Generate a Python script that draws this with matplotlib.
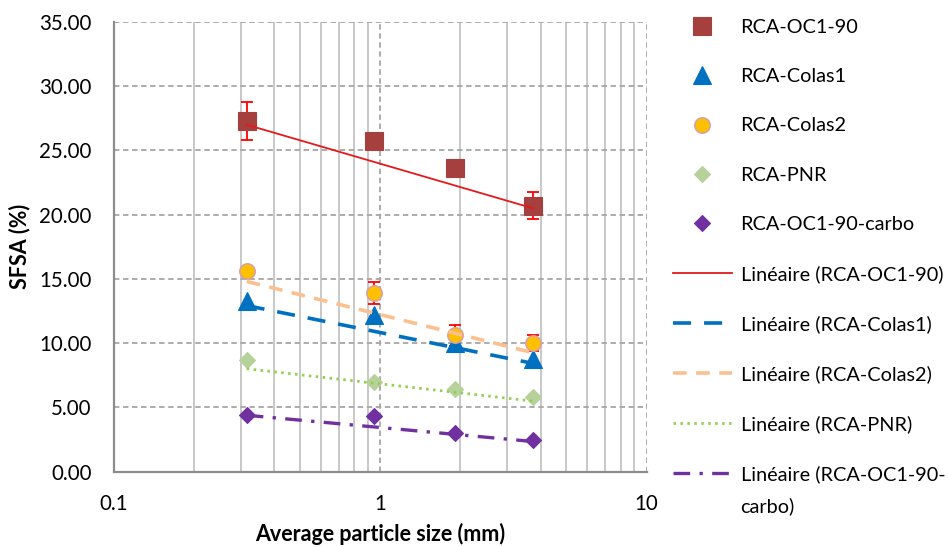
import numpy as np
import matplotlib
matplotlib.use("Agg")
import matplotlib.pyplot as plt
from matplotlib.lines import Line2D
from matplotlib.transforms import IdentityTransform
from matplotlib.ticker import FixedLocator, LogLocator, NullFormatter, FuncFormatter

plt.rcParams['font.family'] = ['Lato', 'DejaVu Sans']

# Average particle size of each fraction (mm)
particle_size = [0.315, 0.95, 1.9, 3.75]

# SFSA (%) per material
sfsa_oc1_90 = [27.3, 25.7, 23.6, 20.7]
sfsa_colas1 = [13.3, 12.2, 10.0, 8.8]
sfsa_colas2 = [15.6, 13.9, 10.6, 10.0]
sfsa_pnr = [8.7, 7.0, 6.4, 5.8]
sfsa_carbo = [4.4, 4.3, 3.0, 2.5]

# Error bar half-widths
err_oc1_90 = [1.45, 0.4, 0.4, 1.05]
err_colas2 = [0.3, 0.85, 0.8, 0.6]

series_names = ["RCA-OC1-90", "RCA-Colas1", "RCA-Colas2", "RCA-PNR", "RCA-OC1-90-carbo"]
trend_names = ["Linéaire (RCA-OC1-90)", "Linéaire (RCA-Colas1)", "Linéaire (RCA-Colas2)",
               "Linéaire (RCA-PNR)", "Linéaire (RCA-OC1-90-"]
trend_name_tail = "carbo)"
y_ticks = [0, 5, 10, 15, 20, 25, 30, 35]
x_ticks = [0.1, 1, 10]

fig = plt.figure(figsize=(9.48, 5.47), dpi=100)
ax = fig.add_axes([0.1203, 0.1377, 0.5617, 0.8221])

x = np.array(particle_size)

styles = [
    dict(marker='s', ms=13, mfc='#A5403E', mec='#A5403E', mew=0.8),
    dict(marker='^', ms=13, mfc='#0070C0', mec='#0070C0', mew=0.8),
    dict(marker='o', ms=11, mfc='#FFC000', mec='#D9A29A', mew=1.2),
    dict(marker='D', ms=8.5, mfc='#B7D19A', mec='#B7D19A', mew=0.8),
    dict(marker='D', ms=8.5, mfc='#7030A0', mec='#7030A0', mew=0.8),
]
trend_styles = [
    dict(color='#E31A1C', lw=1.3, ls='-'),
    dict(color='#0070C0', lw=2.6, ls=(0, (5.0, 3.6))),
    dict(color='#FAC090', lw=2.6, ls=(0, (3.8, 2.6))),
    dict(color='#92D050', lw=2.0, ls=(0, (0.9, 1.6))),
    dict(color='#7030A0', lw=2.4, ls=(0, (5.0, 2.8, 1.0, 2.8))),
]
data = [sfsa_oc1_90, sfsa_colas1, sfsa_colas2, sfsa_pnr, sfsa_carbo]

# Error bars sit behind the markers
ax.errorbar(x, sfsa_oc1_90, yerr=err_oc1_90, fmt='none', ecolor='#FF0000',
            elinewidth=1.3, capsize=4.5, capthick=1.3, zorder=3)
ax.errorbar(x, sfsa_colas2, yerr=err_colas2, fmt='none', ecolor='#FF0000',
            elinewidth=1.3, capsize=4.5, capthick=1.3, zorder=3)

# Linear trend lines (least squares in x), drawn between the end points
for ys, ts in zip(data, trend_styles):
    slope, intercept = np.polyfit(x, ys, 1)
    xe = np.array([x.min(), x.max()])
    ax.plot(xe, slope * xe + intercept, zorder=5, dash_capstyle='butt', **ts)

for ys, st in zip(data, styles):
    ax.plot(x, ys, ls='none', zorder=4, **st)

ax.set_xscale('log')
ax.set_xlim(0.1, 10)
ax.set_ylim(0, 35)
ax.yaxis.set_major_locator(FixedLocator(y_ticks))
ax.yaxis.set_major_formatter(FuncFormatter(lambda v, p: f"{v:.2f}"))
ax.xaxis.set_major_locator(FixedLocator(x_ticks))
ax.xaxis.set_major_formatter(FuncFormatter(lambda v, p: f"{v:g}"))
ax.xaxis.set_minor_locator(LogLocator(base=10, subs=np.arange(2, 10)))
ax.xaxis.set_minor_formatter(NullFormatter())

ax.grid(which='minor', axis='x', color='#C8C8C8', lw=1.4, ls='-')
ax.grid(which='major', axis='both', color='#A6A6A6', lw=1.3, ls=(0, (3, 2)))
ax.set_axisbelow(True)

for side in ['top', 'right']:
    ax.spines[side].set_visible(False)
for side in ['left', 'bottom']:
    ax.spines[side].set_color('#8C8C8C')
    ax.spines[side].set_linewidth(1.6)
    ax.spines[side].set_zorder(2.5)

ax.tick_params(which='both', length=0, labelsize=14.8, colors='#000000')
ax.tick_params(axis='x', pad=16)
ax.tick_params(axis='y', pad=16)

ax.set_xlabel("Average particle size (mm)", fontsize=15.5, fontweight='bold', va='top')
ax.xaxis.set_label_coords(0.5, -0.115)
ax.set_ylabel("SFSA (%)", fontsize=15.5, fontweight='bold')
ax.yaxis.set_label_coords(-0.158, 0.5)

handles = []
for st in styles:
    handles.append(Line2D([], [], ls='none', **st))
for ts in trend_styles:
    handles.append(Line2D([], [], **ts))
labels = series_names + trend_names

leg = fig.legend(handles, labels, loc='upper left', bbox_to_anchor=(0.710, 0.965),
                 frameon=False, fontsize=14.3, handlelength=2.95, handletextpad=0.45,
                 labelspacing=1.62, borderaxespad=0, borderpad=0)

# Second line of the last trend label, set under its first line
fig.canvas.draw()
bb = leg.get_texts()[-1].get_window_extent()
fig.text(bb.x0, bb.y0 - 32, trend_name_tail, fontsize=14.3, va='bottom', ha='left',
         transform=IdentityTransform())

fig.savefig("out.png", dpi=100)
